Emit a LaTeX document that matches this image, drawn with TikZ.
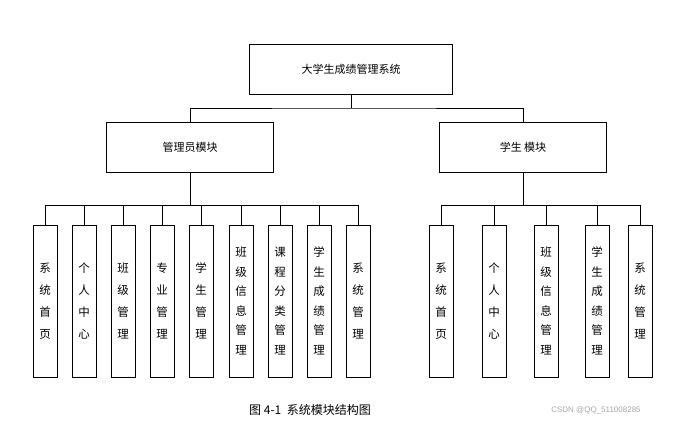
\documentclass[tikz,border=0pt]{standalone}
\usepackage{fontspec}
\newfontfamily\cjk{Noto Sans CJK SC}
\setmainfont{Liberation Serif}
\begin{document}
\begin{tikzpicture}[x=1pt,y=-1pt,
  box/.style={draw,line width=0.8pt,inner sep=0pt,font=\cjk\fontsize{11}{13}\selectfont},
  leaf/.style={draw,line width=0.8pt,inner sep=0pt,minimum width=24pt,minimum height=152pt,align=center,font=\cjk\fontsize{11.5}{19.5}\selectfont},
  leafs/.style={leaf,font=\cjk\fontsize{11.5}{22}\selectfont},
  ln/.style={line width=0.8pt}]
\useasboundingbox (0,0) rectangle (681,422);
\node[box,minimum width=203pt,minimum height=50pt] (root) at (351,69) {大学生成绩管理系统};
\node[box,minimum width=167pt,minimum height=50pt] (adm) at (190,147) {管理员模块};
\node[box,minimum width=167pt,minimum height=50pt] (stu) at (523,147) {学生 模块};
\coordinate (j) at (351,108);
\draw[ln] (root.south) -- (j);
\draw[ln] (adm.north) |- (j) -| (stu.north);
\foreach \n/\x/\s/\t in {a1/45/leafs/系\\统\\首\\页, a2/84/leafs/个\\人\\中\\心, a3/123/leafs/班\\级\\管\\理, a4/162/leafs/专\\业\\管\\理, a5/201/leafs/学\\生\\管\\理, a6/241/leaf/班\\级\\信\\息\\管\\理, a7/280/leaf/课\\程\\分\\类\\管\\理, a8/319/leaf/学\\生\\成\\绩\\管\\理, a9/358/leafs/系\\统\\管\\理}{
  \node[\s] (\n) at (\x,301) {\t};
  \draw[ln] (\n.north) -- (\x,205) -| (adm.south);
}
\draw[ln] (a1.north|-0,205) -- (a9.north|-0,205);
\foreach \n/\x/\s/\t in {b1/441/leafs/系\\统\\首\\页, b2/494/leafs/个\\人\\中\\心, b3/546/leaf/班\\级\\信\\息\\管\\理, b4/597/leaf/学\\生\\成\\绩\\管\\理, b5/640/leafs/系\\统\\管\\理}{
  \node[\s] (\n) at (\x,301) {\t};
  \draw[ln] (\n.north) -- (\x,205) -| (stu.south);
}
\draw[ln] (b1.north|-0,205) -- (b5.north|-0,205);
\node[font=\cjk\fontsize{12}{14}\selectfont] (cap) at (310,410) {图 4-1\ \ 系统模块结构图};
\node[font=\fontspec{Liberation Sans}\fontsize{8}{10}\selectfont,text=gray!70] (wm) at (596,410) {CSDN @QQ\_511008285};
\end{tikzpicture}
\end{document}
